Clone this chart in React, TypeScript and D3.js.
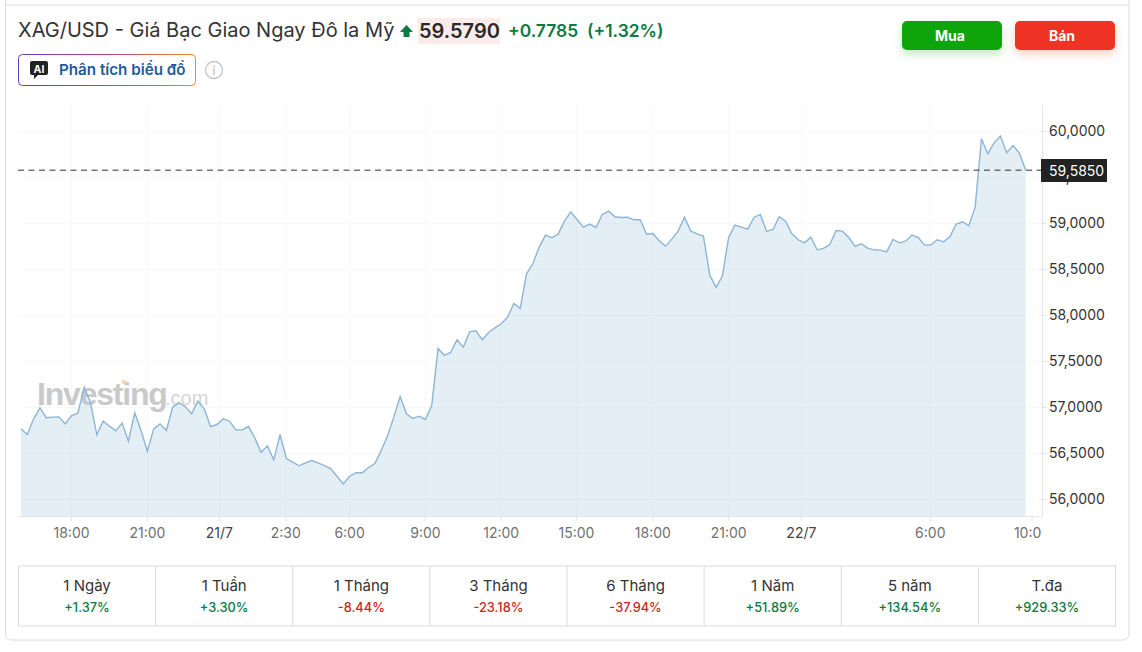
import React from "react";
import * as d3 from "d3";

const prices = [
  56.768,56.706,56.877,56.996,56.888,56.895,56.898,56.822,56.913,56.938,
  57.221,57.051,56.703,56.851,56.797,56.746,56.830,56.634,56.942,56.750,
  56.525,56.768,56.822,56.750,57.003,57.051,57.011,56.931,57.069,56.985,
  56.793,56.815,56.877,56.851,56.757,56.757,56.793,56.670,56.514,56.583,
  56.431,56.706,56.445,56.406,56.366,56.398,56.424,56.398,56.369,56.337,
  56.253,56.170,56.253,56.290,56.290,56.348,56.391,
  56.533,56.689,56.895,57.120,56.931,56.881,56.906,56.870,57.022,57.642,
  57.566,57.598,57.736,57.656,57.823,57.834,57.736,57.816,57.866,57.910,
  57.982,58.131,58.076,58.453,58.562,58.743,58.873,58.845,58.884,59.026,
  59.127,59.044,58.960,58.993,58.957,59.098,59.134,59.073,59.066,59.069,
  59.040,59.040,58.884,58.892,58.812,58.754,58.830,58.917,59.069,58.917,
  58.888,58.863,58.440,
  58.305,58.428,58.852,58.982,58.961,58.939,59.066,59.098,58.913,58.935,
  59.073,59.026,58.888,58.823,58.790,58.852,58.714,58.729,58.772,58.924,
  58.917,58.848,58.750,58.779,58.732,58.714,58.711,58.692,58.827,58.790,
  58.808,58.874,58.848,58.765,58.769,58.823,58.801,58.856,58.993,59.019,
  58.975,59.178,59.921,59.758,59.877,59.950,59.769,59.848,59.765,59.579,
];
const yTicks = [56, 56.5, 57, 57.5, 58, 58.5, 59, 59.5, 60];
const xTickIndex = [8, 20, 31.4, 41.9, 52, 64, 76, 87.9, 100, 112, 123.5, 143.9, 160];
const xTickLabels = ["18:00","21:00","21/7","2:30","6:00","9:00","12:00","15:00","18:00","21:00","22/7","6:00","10:00"];
const periods = ["1 Ngày","1 Tuần","1 Tháng","3 Tháng","6 Tháng","1 Năm","5 năm","T.đa"];
const changes = ["+1.37%","+3.30%","-8.44%","-23.18%","-37.94%","+51.89%","+134.54%","+929.33%"];
const lastMarker = 59.585;

const FONT = "Inter, 'Noto Sans', sans-serif";
const GREEN = "#0b7a43";
const RED = "#c9281e";

const fmt = (v: number) => v.toFixed(4).replace(".", ",");

export default function App() {
  const x = d3.scaleLinear().domain([0, prices.length - 1]).range([21, 1025.7]);
  const y = d3.scaleLinear().domain([60, 56]).range([131.5, 499.5]);
  const plotBottom = 516;
  const axisX = 1042;
  const line = d3.line<number>().x((_, i) => x(i)).y((d) => y(d));
  const area = d3.area<number>().x((_, i) => x(i)).y0(plotBottom).y1((d) => y(d));
  const table = d3.scaleLinear().domain([0, periods.length]).range([18.5, 1115.5]);

  return (
    <svg width={1142} height={652} style={{ position: "absolute", left: 0, top: 0, fontFamily: FONT }}>
      <defs>
        <linearGradient id="aiBorder" x1="0" x2="1" y1="0" y2="0">
          <stop offset="0" stopColor="#5f3dc4" />
          <stop offset="0.5" stopColor="#c0417e" />
          <stop offset="1" stopColor="#ee8a1e" />
        </linearGradient>
        <clipPath id="plotClip"><rect x={0} y={90} width={axisX} height={470} /></clipPath>
      </defs>
      <rect width={1142} height={652} fill="#fff" />
      <path d="M5.5,0V634a6,6 0 0 0 6,6H1123a6,6 0 0 0 6,-6V0" fill="none" stroke="#dcdcdc" />
      <line x1={5} x2={1129} y1={5} y2={5} stroke="#dcdcdc" />

      <text x={18} y={37} fontSize={20} fill="#333">XAG/USD - Giá Bạc Giao Ngay Đô la Mỹ</text>
      <path d="M406.5,25 L413,32 H409.5 V37 H403.5 V32 H400 Z" fill={GREEN} />
      <rect x={418} y={18} width={82} height={26} fill="#fbeceb" />
      <text x={419} y={38} fontSize={20} fontWeight={600} fill="#2a2a2a">59.5790</text>
      <text x={508} y={36.5} fontSize={17.4} fontWeight={600} fill={GREEN}>+0.7785</text>
      <text x={587} y={36.5} fontSize={17.4} fontWeight={600} fill={GREEN}>(+1.32%)</text>

      <rect x={18.5} y={54.5} width={177} height={31} rx={4} fill="#fff" stroke="url(#aiBorder)" />
      <path d="M32,61H46a2,2 0 0 1 2,2V73a2,2 0 0 1 -2,2H38L34,79V75H32a2,2 0 0 1 -2,-2V63a2,2 0 0 1 2,-2Z" fill="#222" />
      <text x={39} y={72.5} fontSize={10.5} fontWeight={700} fill="#fff" textAnchor="middle">AI</text>
      <text x={59} y={75} fontSize={15.2} fontWeight={600} fill="#1f5a9c">Phân tích biểu đồ</text>
      <circle cx={214} cy={70} r={8.5} fill="#fff" stroke="#c4c4c4" strokeWidth={1.3} />
      <text x={214} y={74.5} fontSize={12} fill="#b5b5b5" textAnchor="middle">i</text>

      <rect x={902} y={21} width={100} height={29} rx={5} fill="#0ea50a" style={{ filter: "drop-shadow(0 4px 5px rgba(14,165,10,0.25))" }} />
      <text x={950} y={41} fontSize={14} fontWeight={700} fill="#fff" textAnchor="middle">Mua</text>
      <rect x={1015} y={21} width={100} height={29} rx={5} fill="#ee3224" style={{ filter: "drop-shadow(0 4px 5px rgba(238,50,36,0.25))" }} />
      <text x={1062} y={41} fontSize={14} fontWeight={700} fill="#fff" textAnchor="middle">Bán</text>

      {yTicks.map((t) => (
        <g key={t}>
          <line x1={18} x2={axisX} y1={y(t)} y2={y(t)} stroke="#f8f8f8" />
          <line x1={axisX} x2={axisX + 5} y1={y(t)} y2={y(t)} stroke="#e4e4e4" />
          <text x={1049} y={y(t) + 4.5} fontSize={14} fill="#333">{fmt(t)}</text>
        </g>
      ))}
      {xTickIndex.map((t, i) => (
        <g key={i}>
          <line x1={x(t)} x2={x(t)} y1={105} y2={plotBottom + 5} stroke="#f8f8f8" />
          <line x1={x(t)} x2={x(t)} y1={plotBottom} y2={plotBottom + 5} stroke="#e4e4e4" />
        </g>
      ))}

      <text x={37} y={405} fontSize={32} fontWeight={700} fill="#c9c9c9" letterSpacing={-1.2} fontFamily="'Liberation Sans', sans-serif">Investing</text>
      <text x={165} y={405} fontSize={20} fill="#d5d5d5" fontFamily="'Liberation Sans', sans-serif">.com</text>
      <circle cx={124} cy={382} r={2.2} fill="#f6d7a8" />

      <path d={area(prices) ?? ""} fill="#a8cbe0" fillOpacity={0.32} />
      <path d={line(prices) ?? ""} fill="none" stroke="#8db5d5" strokeWidth={1.4} />

      <line x1={18} x2={axisX} y1={plotBottom + 0.5} y2={plotBottom + 0.5} stroke="#e4e4e4" />
      <line x1={axisX + 0.5} x2={axisX + 0.5} y1={105} y2={plotBottom} stroke="#e4e4e4" />

      <g clipPath="url(#plotClip)">
        {xTickIndex.map((t, i) => (
          <text key={i} x={x(t)} y={538} fontSize={14} textAnchor="middle"
            fill={xTickLabels[i].includes("/") ? "#444" : "#707070"}>{xTickLabels[i]}</text>
        ))}
      </g>

      <line x1={18} x2={axisX} y1={y(lastMarker) + 0.5} y2={y(lastMarker) + 0.5} stroke="#333" strokeDasharray="6 4.5" />
      <rect x={1041} y={159} width={66} height={23} fill="#222" />
      <text x={1049} y={176} fontSize={14} fill="#fff">{fmt(lastMarker)}</text>

      <rect x={18.5} y={566} width={1097} height={60} fill="none" stroke="#dcdcdc" />
      {periods.map((p, i) => {
        const cx = (table(i) + table(i + 1)) / 2;
        return (
          <g key={p}>
            {i > 0 && <line x1={table(i)} x2={table(i)} y1={566} y2={626} stroke="#dcdcdc" />}
            <text x={cx} y={591} fontSize={15} fill="#333" textAnchor="middle">{p}</text>
            <text x={cx} y={612} fontSize={12.8} fontWeight={500} fill={changes[i].startsWith("+") ? GREEN : RED} textAnchor="middle">{changes[i]}</text>
          </g>
        );
      })}
    </svg>
  );
}
